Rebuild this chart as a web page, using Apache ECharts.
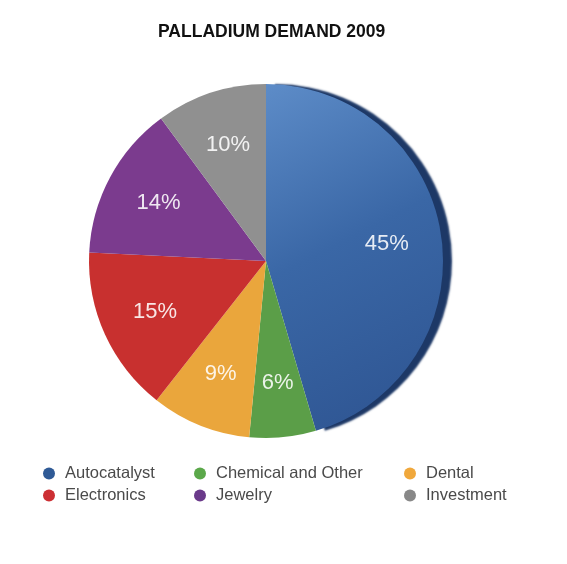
<!DOCTYPE html>
<html><head><meta charset="utf-8">
<script src="https://cdn.jsdelivr.net/npm/echarts@6/dist/echarts.min.js"></script>
<style>html,body{margin:0;padding:0;background:#fff}#c{width:567px;height:564px}</style>
</head><body><div id="c"></div>
<script>
const categories = ['Autocatalyst','Chemical and Other','Dental','Electronics','Jewelry','Investment'];
const values = [45, 6, 9, 15, 14, 10];
const colors = ['#3a65a3','#5b9e48','#eaa63c','#c8302f','#7b3b8e','#909090'];
const legendColors = ['#2f5a96','#5ba84a','#f0a83c','#cc2f33','#6a3a8a','#888888'];

const chart = echarts.init(document.getElementById('c'));
const center = [266, 261];
const R = 177;

const pieData = categories.map((n, i) => ({
  name: n, value: values[i],
  itemStyle: i === 0 ? {
    color: new echarts.graphic.LinearGradient(0, 0, 1, 1, [
      {offset: 0, color: '#5d8cc8'}, {offset: 0.45, color: '#3a67a6'}, {offset: 1, color: '#2d5390'}
    ]),
    shadowColor: '#1d3866', shadowOffsetX: 9, shadowOffsetY: 0, shadowBlur: 2
  } : {color: colors[i]}
}));

const legendCol = (items, left) => ({
  orient: 'vertical', left: left, top: 460, itemGap: 5,
  icon: 'circle', itemWidth: 12, itemHeight: 12,
  textStyle: {fontFamily: 'Liberation Sans, Arial, sans-serif', fontSize: 16.5, color: '#4a4a4a', padding: [0,0,0,5]},
  data: items.map(i => ({name: categories[i], itemStyle: {color: legendColors[i]}})),
  selectedMode: false
});

chart.setOption({
  animation: false,
  title: {
    text: 'PALLADIUM DEMAND 2009', left: 153, top: 18,
    textStyle: {fontFamily: 'Liberation Sans, Arial, sans-serif', fontSize: 17.5, fontWeight: 'bold', color: '#111'}
  },
  legend: [legendCol([0,3], 38), legendCol([1,4], 189), legendCol([2,5], 399)],
  series: [{
    type: 'pie', center: center, radius: [0, R], startAngle: 90, clockwise: true,
    label: {show: false}, labelLine: {show: false},
    data: pieData, silent: true
  }, {
    type: 'pie', center: center, radius: [61, R], startAngle: 90, clockwise: true,
    itemStyle: {color: 'rgba(0,0,0,0)'},
    label: {show: true, position: 'inside', formatter: '{c}%', color: 'rgba(255,255,255,0.88)',
      fontFamily: 'Liberation Sans, Arial, sans-serif', fontSize: 22},
    labelLine: {show: false},
    data: categories.map((n, i) => ({name: n, value: values[i]})),
    silent: true
  }]
});
</script></body></html>
